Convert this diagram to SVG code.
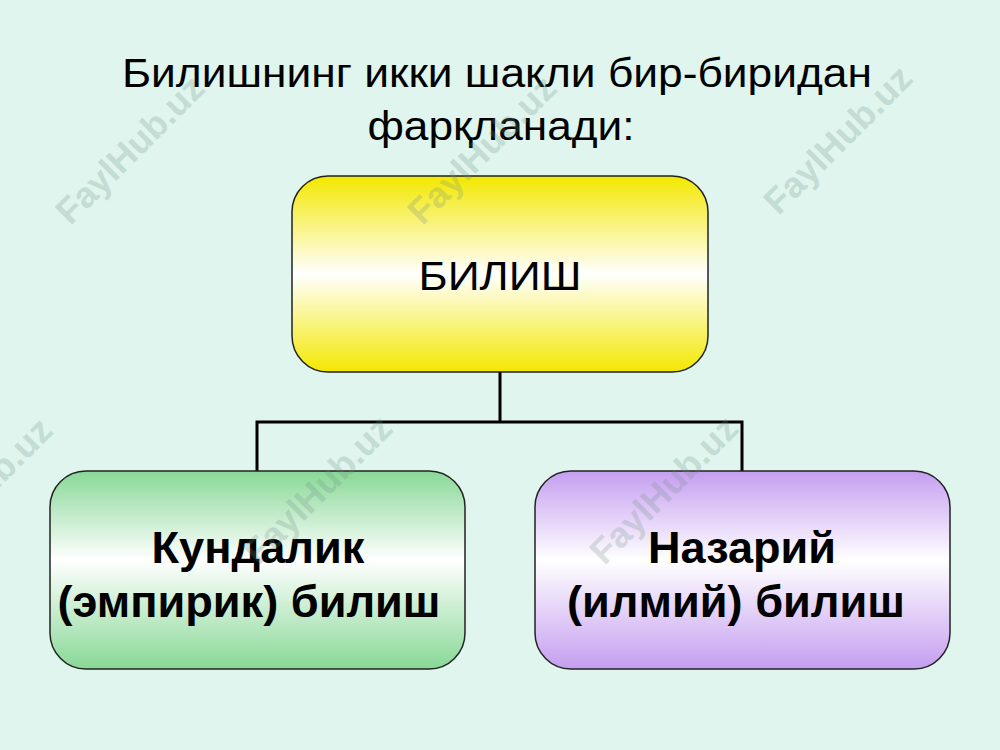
<svg xmlns="http://www.w3.org/2000/svg" width="1000" height="750" viewBox="0 0 1000 750">
<style>
.title{font-family:"Liberation Sans",Arial,sans-serif;font-size:40px;fill:#000}
.lbl{font-family:"Liberation Sans",Arial,sans-serif;font-size:40px;fill:#000;text-anchor:middle}
.b{font-weight:bold;font-size:44px}
.box{stroke:#222;stroke-width:1.5}
.conn{fill:none;stroke:#000;stroke-width:3}
.wm{font-family:"Liberation Sans",Arial,sans-serif;font-size:36px;font-weight:bold;fill:#6f8f86;opacity:0.24;text-anchor:middle}
</style>
<defs>
<linearGradient id="gy" x1="0" y1="0" x2="0" y2="1">
<stop offset="0" stop-color="#f3e800"/><stop offset="0.5" stop-color="#ffffff"/><stop offset="1" stop-color="#f3e800"/>
</linearGradient>
<linearGradient id="gg" x1="0" y1="0" x2="0" y2="1">
<stop offset="0" stop-color="#88d896"/><stop offset="0.45" stop-color="#ffffff"/><stop offset="1" stop-color="#88d896"/>
</linearGradient>
<linearGradient id="gp" x1="0" y1="0" x2="0" y2="1">
<stop offset="0" stop-color="#c59ef0"/><stop offset="0.45" stop-color="#ffffff"/><stop offset="1" stop-color="#c59ef0"/>
</linearGradient>
</defs>
<rect width="1000" height="750" fill="#dff5ed"/>
<g id="title">
<text class="title" x="497" y="87" text-anchor="middle" textLength="750" lengthAdjust="spacingAndGlyphs">Билишнинг икки шакли бир-биридан</text>
<text class="title" x="501" y="140" text-anchor="middle" textLength="267" lengthAdjust="spacingAndGlyphs">фарқланади:</text>
</g>
<g id="connectors">
<path class="conn" d="M500,372 V422 M257,422 H742 M257,420.5 V471 M742,420.5 V471"/>
</g>
<g id="node-bilish">
<rect class="box" x="292" y="176" width="416" height="196" rx="36" fill="url(#gy)"/>
<text class="lbl" x="500" y="290" textLength="163" lengthAdjust="spacingAndGlyphs">БИЛИШ</text>
</g>
<g id="node-kundalik">
<rect class="box" x="50" y="471" width="415" height="198" rx="36" fill="url(#gg)"/>
<text class="lbl b" x="258" y="563" textLength="213" lengthAdjust="spacingAndGlyphs">Кундалик</text>
<text class="lbl b" x="249" y="617" textLength="383" lengthAdjust="spacingAndGlyphs">(эмпирик) билиш</text>
</g>
<g id="node-nazariy">
<rect class="box" x="535" y="471" width="415" height="198" rx="36" fill="url(#gp)"/>
<text class="lbl b" x="742" y="563" textLength="188" lengthAdjust="spacingAndGlyphs">Назарий</text>
<text class="lbl b" x="736" y="617" textLength="338" lengthAdjust="spacingAndGlyphs">(илмий) билиш</text>
</g>
<g id="watermarks">
<text class="wm" transform="translate(130,150) rotate(-45)" y="12">FaylHub.uz</text>
<text class="wm" transform="translate(482,150) rotate(-45)" y="12">FaylHub.uz</text>
<text class="wm" transform="translate(838,140) rotate(-45)" y="12">FaylHub.uz</text>
<text class="wm" transform="translate(-22,492) rotate(-45)" y="12">FaylHub.uz</text>
<text class="wm" transform="translate(318,490) rotate(-45)" y="12">FaylHub.uz</text>
<text class="wm" transform="translate(664,490) rotate(-45)" y="12">FaylHub.uz</text>
</g>
</svg>
